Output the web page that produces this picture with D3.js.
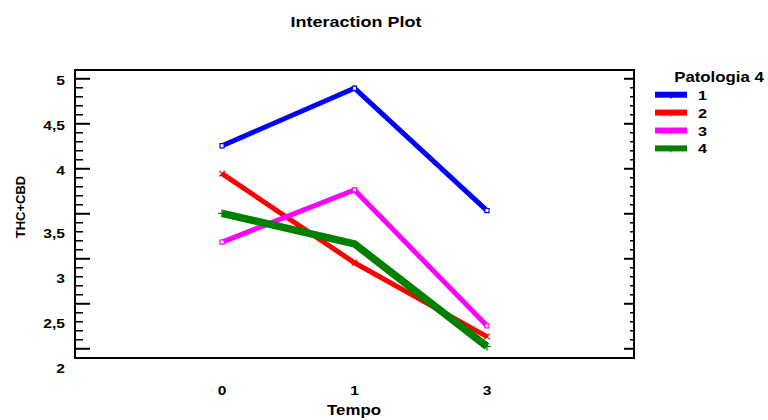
<!DOCTYPE html>
<html>
<head>
<meta charset="utf-8">
<script src="https://cdn.jsdelivr.net/npm/d3@7"></script>
<style>
  body { margin: 0; background: #fff; }
  svg { display: block; }
</style>
</head>
<body>
<svg id="chart"></svg>
<script>
// Data
const tempo = ["0", "1", "3"];
const patologia = ["1", "2", "3", "4"];
const pat1 = [4.25, 4.89, 3.53];
const pat2 = [3.94, 2.95, 2.13];
const pat3 = [3.18, 3.76, 2.25];
const pat4 = [3.50, 3.16, 2.02];
const yTicks = [2, 2.5, 3, 3.5, 4, 4.5, 5];
const yMinor = d3.range(19, 51).map(d => d / 10).filter(d => !yTicks.includes(d));

const seriesList = [pat1, pat2, pat3, pat4];
const colors = ["#0000ff", "#ff0000", "#ff00ff", "#008000"];
const widths = [5, 5, 5, 7.5];
const symbols = [d3.symbolSquare2 || d3.symbolSquare, d3.symbolTimes || d3.symbolCross,
                 d3.symbolSquare2 || d3.symbolSquare, d3.symbolPlus || d3.symbolCross];

// Size
const width = 768;
const height = 420;
const plot = { left: 75, right: 634, top: 70, bottom: 358 };

const svg = d3.select("#chart")
    .attr("width", width)
    .attr("height", height);

svg.append("rect").attr("width", width).attr("height", height).attr("fill", "#fff");

const x = d3.scalePoint()
    .domain(tempo)
    .range([plot.left, plot.right])
    .padding(1.11);

const y = d3.scaleLinear()
    .domain([1.892, 5.092])
    .range([plot.bottom, plot.top]);

// stretched bold text (the reference is a little wide)
function label(g, px, py, str, size, anchor) {
    return g.append("text")
        .attr("transform", `translate(${px},${py}) scale(1.2,1)`)
        .attr("text-anchor", anchor)
        .style("font", `bold ${size}px 'Liberation Sans', Arial, sans-serif`)
        .attr("fill", "#000")
        .text(str);
}

// Axis ticks
const ticks = [
    { axis: d3.axisLeft(y).tickValues(yTicks).tickSize(-15), at: plot.left, w: 2 },
    { axis: d3.axisLeft(y).tickValues(yMinor).tickSize(-8), at: plot.left, w: 1.5 },
    { axis: d3.axisRight(y).tickValues(yTicks).tickSize(-10), at: plot.right, w: 2 },
    { axis: d3.axisRight(y).tickValues(yMinor).tickSize(-4), at: plot.right, w: 1.5 }
];
ticks.forEach(t => {
    const g = svg.append("g")
        .attr("transform", `translate(${t.at},0)`)
        .call(t.axis.tickFormat(""));
    g.select(".domain").remove();
    g.selectAll("line").attr("stroke", "#000").attr("stroke-width", t.w);
});

// Y tick labels (lower ones sit a bit low in the reference)
yTicks.forEach(v => {
    const shift = v < 4 ? 25 : 7;
    label(svg, 65, y(v) + shift, String(v).replace(".", ","), 13, "end");
});

// X tick labels
tempo.forEach(t => label(svg, x(t), 395, t, 13, "middle"));

// Frame
svg.append("rect")
    .attr("x", plot.left)
    .attr("y", plot.top)
    .attr("width", plot.right - plot.left)
    .attr("height", plot.bottom - plot.top)
    .attr("fill", "none")
    .attr("stroke", "#000")
    .attr("stroke-width", 2);

// Lines
const line = d3.line()
    .x((d, i) => x(tempo[i]))
    .y(d => y(d));

seriesList.forEach((s, k) => {
    svg.append("path")
        .datum(s)
        .attr("d", line)
        .attr("fill", "none")
        .attr("stroke", colors[k])
        .attr("stroke-width", widths[k])
        .attr("stroke-linejoin", "miter");

    svg.selectAll(null)
        .data(s)
        .enter()
        .append("path")
        .attr("transform", (d, i) => `translate(${x(tempo[i])},${y(d)})`)
        .attr("d", d3.symbol().type(symbols[k]).size(22))
        .attr("fill", "#fff")
        .attr("stroke", colors[k])
        .attr("stroke-width", 1.2);
});

// Titles
label(svg, 356, 27, "Interaction Plot", 15, "middle");
label(svg, 354, 415, "Tempo", 14, "middle");

svg.append("text")
    .attr("transform", "translate(25,207) rotate(-90)")
    .attr("text-anchor", "middle")
    .style("font", "bold 13px 'Liberation Sans', Arial, sans-serif")
    .text("THC+CBD");

// Legend
const legend = svg.append("g");
label(legend, 719, 82, "Patologia 4", 14, "middle");

patologia.forEach((p, k) => {
    const ly = 94.7 + k * 17.9;
    legend.append("line")
        .attr("x1", 655).attr("x2", 687)
        .attr("y1", ly).attr("y2", ly)
        .attr("stroke", colors[k])
        .attr("stroke-width", 6);
    legend.append("line")
        .attr("x1", 671).attr("x2", 671)
        .attr("y1", ly).attr("y2", ly + 4)
        .attr("stroke", colors[k])
        .attr("stroke-width", 1);
    label(legend, 698, ly + 5, p, 13.5, "start");
});
</script>
</body>
</html>
